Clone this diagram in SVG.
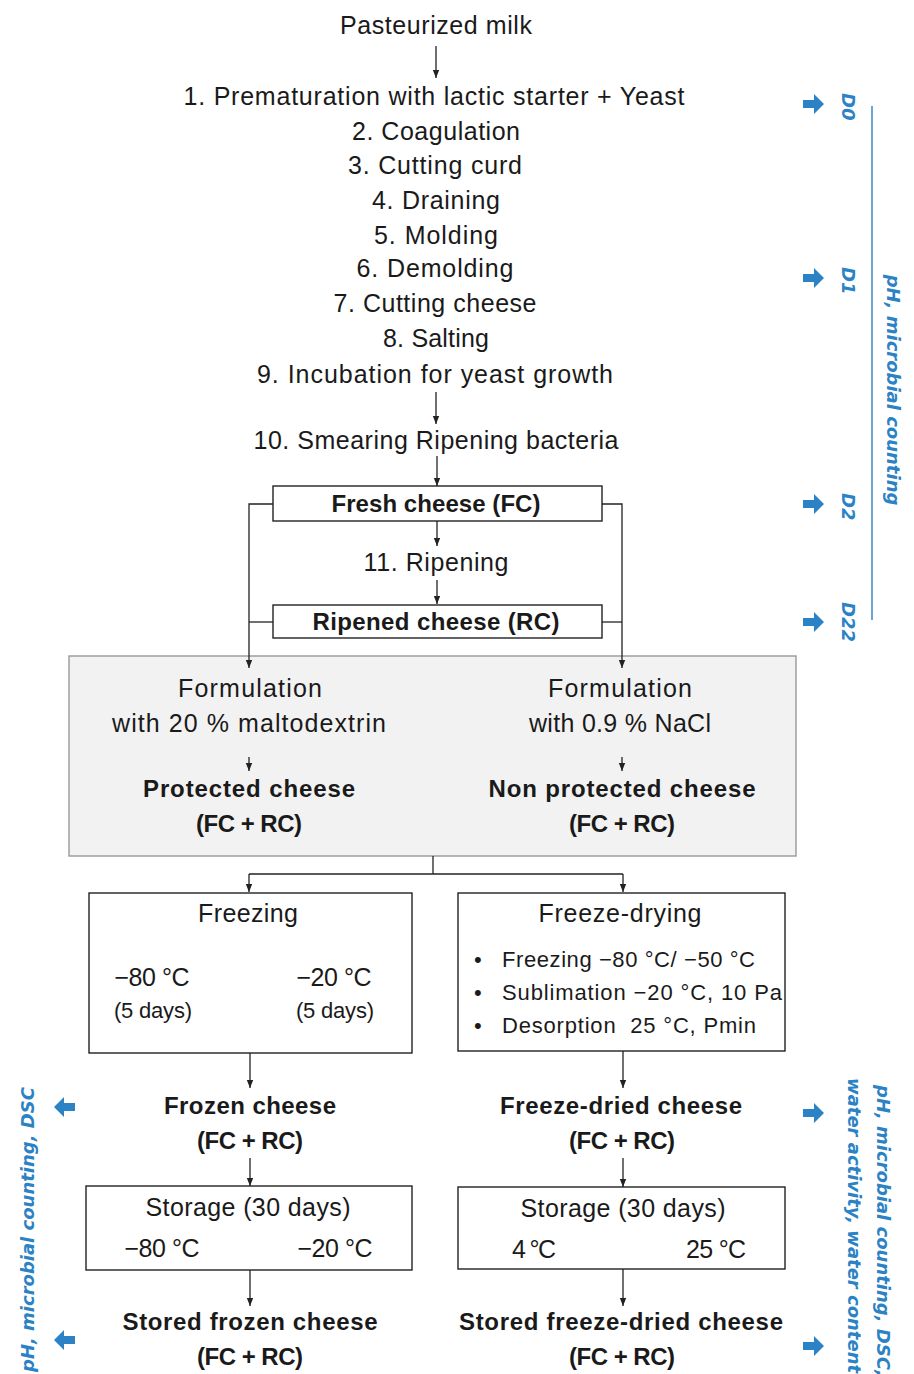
<svg xmlns="http://www.w3.org/2000/svg" xmlns:xlink="http://www.w3.org/1999/xlink" width="914" height="1374" viewBox="0 0 914 1374">
<style>
text{font-family:"Liberation Sans",Arial,sans-serif;fill:#1a1a1a;}
.t{font-size:25px;text-anchor:middle;}
.b{font-size:24px;font-weight:bold;text-anchor:middle;}
.s{font-size:22px;}
.box{fill:#fff;stroke:#222;stroke-width:1.4;}
.ln{fill:none;stroke:#222;stroke-width:1.3;}
.bl{font-family:"DejaVu Sans",sans-serif;font-style:italic;font-weight:bold;fill:#2b82c4;font-size:18px;}
</style>
<defs>
<marker id="a" viewBox="0 0 10 10" refX="10" refY="5" markerWidth="9" markerHeight="8" markerUnits="userSpaceOnUse" orient="auto"><path d="M0,1 L10,5 L0,9 z" fill="#222"/></marker>
<path id="bar" d="M0,-4 L11,-4 L11,-10 L21,0 L11,10 L11,4 L0,4 z" fill="#2b82c4"/>
</defs>

<g id="steps">
<text class="t" x="436" y="34" textLength="192">Pasteurized milk</text>
<text class="t" x="434" y="105" textLength="501">1. Prematuration with lactic starter + Yeast</text>
<text class="t" x="436" y="140" textLength="168">2. Coagulation</text>
<text class="t" x="435" y="174" textLength="174">3. Cutting curd</text>
<text class="t" x="436" y="209" textLength="128">4. Draining</text>
<text class="t" x="436" y="244" textLength="124">5. Molding</text>
<text class="t" x="435" y="277" textLength="157">6. Demolding</text>
<text class="t" x="435" y="312" textLength="203">7. Cutting cheese</text>
<text class="t" x="436" y="347" textLength="106">8. Salting</text>
<text class="t" x="435" y="383" textLength="356">9. Incubation for yeast growth</text>
<text class="t" x="436" y="449" textLength="365">10. Smearing Ripening bacteria</text>
</g>

<g id="fresh">
<rect class="box" x="273" y="486" width="329" height="35"/>
<text class="b" x="436" y="512" textLength="209">Fresh cheese (FC)</text>
</g>
<g id="ripening"><text class="t" x="436" y="571" textLength="145">11. Ripening</text></g>
<g id="ripened">
<rect class="box" x="273" y="605" width="329" height="33"/>
<text class="b" x="436" y="630" textLength="247">Ripened cheese (RC)</text>
</g>

<g id="formulation">
<rect x="69" y="656" width="727" height="200" fill="#f2f2f2" stroke="#999" stroke-width="1.4"/>
<text class="t" x="250" y="697" textLength="144">Formulation</text>
<text class="t" x="249" y="732" textLength="274">with 20 % maltodextrin</text>
<text class="b" x="249" y="797" textLength="212">Protected cheese</text>
<text class="b" x="249" y="832" textLength="106">(FC + RC)</text>
<text class="t" x="620" y="697" textLength="144">Formulation</text>
<text class="t" x="620" y="732" textLength="182">with 0.9 % NaCl</text>
<text class="b" x="622" y="797" textLength="267">Non protected cheese</text>
<text class="b" x="622" y="832" textLength="106">(FC + RC)</text>
</g>

<g id="freezing">
<rect class="box" x="89" y="893" width="323" height="160"/>
<text class="t" x="248" y="922" textLength="100">Freezing</text>
<text class="t" x="152" y="986" textLength="75">−80 °C</text>
<text class="t" x="334" y="986" textLength="75">−20 °C</text>
<text class="t s" x="153" y="1018" textLength="78">(5 days)</text>
<text class="t s" x="335" y="1018" textLength="78">(5 days)</text>
</g>

<g id="freezedrying">
<rect class="box" x="458" y="893" width="327" height="158"/>
<text class="t" x="620" y="922" textLength="163">Freeze-drying</text>
<text class="s" x="474" y="967">•</text>
<text class="s" x="474" y="1000">•</text>
<text class="s" x="474" y="1033">•</text>
<text class="s" x="502" y="967" textLength="253">Freezing −80 °C/ −50 °C</text>
<text class="s" x="502" y="1000" textLength="280">Sublimation −20 °C, 10 Pa</text>
<text class="s" x="502" y="1033" textLength="254">Desorption&#160; 25 °C, Pmin</text>
</g>

<g id="frozen">
<text class="b" x="250" y="1114" textLength="172">Frozen cheese</text>
<text class="b" x="250" y="1149" textLength="106">(FC + RC)</text>
</g>
<g id="freezedried">
<text class="b" x="621" y="1114" textLength="242">Freeze-dried cheese</text>
<text class="b" x="622" y="1149" textLength="106">(FC + RC)</text>
</g>

<g id="storage1">
<rect class="box" x="86" y="1186" width="326" height="84"/>
<text class="t" x="248" y="1216" textLength="205">Storage (30 days)</text>
<text class="t" x="162" y="1257" textLength="75">−80 °C</text>
<text class="t" x="335" y="1257" textLength="75">−20 °C</text>
</g>
<g id="storage2">
<rect class="box" x="458" y="1187" width="327" height="82"/>
<text class="t" x="623" y="1217" textLength="205">Storage (30 days)</text>
<text class="t" x="534" y="1258" textLength="44">4 °C</text>
<text class="t" x="716" y="1258" textLength="60">25 °C</text>
</g>

<g id="storedfrozen">
<text class="b" x="250" y="1330" textLength="255">Stored frozen cheese</text>
<text class="b" x="250" y="1365" textLength="106">(FC + RC)</text>
</g>
<g id="storeddried">
<text class="b" x="621" y="1330" textLength="324">Stored freeze-dried cheese</text>
<text class="b" x="622" y="1365" textLength="106">(FC + RC)</text>
</g>

<g id="sampling-top">
<use xlink:href="#bar" x="803" y="104"/>
<use xlink:href="#bar" x="803" y="278"/>
<use xlink:href="#bar" x="803" y="504"/>
<use xlink:href="#bar" x="803" y="622"/>
<text class="bl" transform="translate(842,93) rotate(90)">D0</text>
<text class="bl" transform="translate(842,267) rotate(90)">D1</text>
<text class="bl" transform="translate(842,493) rotate(90)">D2</text>
<text class="bl" transform="translate(842,602) rotate(90)">D22</text>
<line x1="872" y1="106" x2="872" y2="620" stroke="#2b82c4" stroke-width="1.4"/>
<text class="bl" text-anchor="middle" transform="translate(887,390) rotate(90)">pH, microbial counting</text>
</g>

<g id="sampling-left">
<use xlink:href="#bar" transform="translate(75,1107) rotate(180)"/>
<use xlink:href="#bar" transform="translate(75,1340) rotate(180)"/>
<text class="bl" transform="translate(34,1372) rotate(-90)">pH, microbial counting, DSC</text>
</g>

<g id="sampling-right">
<use xlink:href="#bar" x="803" y="1113"/>
<use xlink:href="#bar" x="803" y="1346"/>
<text class="bl" transform="translate(877,1085) rotate(90)">pH, microbial counting, DSC,</text>
<text class="bl" transform="translate(848,1078) rotate(90)">water activity, water content</text>
</g>

<g id="connectors">
<path class="ln" d="M436,46 V78" marker-end="url(#a)"/>
<path class="ln" d="M436,392 V424" marker-end="url(#a)"/>
<path class="ln" d="M437,456 V486" marker-end="url(#a)"/>
<path class="ln" d="M437,521 V546" marker-end="url(#a)"/>
<path class="ln" d="M437,580 V604" marker-end="url(#a)"/>
<path class="ln" d="M273,504 H249 V668" marker-end="url(#a)"/>
<path class="ln" d="M602,504 H622 V668" marker-end="url(#a)"/>
<path class="ln" d="M249,622 H273"/>
<path class="ln" d="M602,622 H622"/>
<path class="ln" d="M249,757 V771" marker-end="url(#a)"/>
<path class="ln" d="M622,757 V771" marker-end="url(#a)"/>
<path class="ln" d="M433,856 V874"/>
<path class="ln" d="M249,874 H623"/>
<path class="ln" d="M249,874 V892" marker-end="url(#a)"/>
<path class="ln" d="M623,874 V892" marker-end="url(#a)"/>
<path class="ln" d="M250,1053 V1088" marker-end="url(#a)"/>
<path class="ln" d="M623,1051 V1088" marker-end="url(#a)"/>
<path class="ln" d="M250,1158 V1186" marker-end="url(#a)"/>
<path class="ln" d="M623,1158 V1187" marker-end="url(#a)"/>
<path class="ln" d="M250,1270 V1306" marker-end="url(#a)"/>
<path class="ln" d="M623,1269 V1306" marker-end="url(#a)"/>
</g>
</svg>
